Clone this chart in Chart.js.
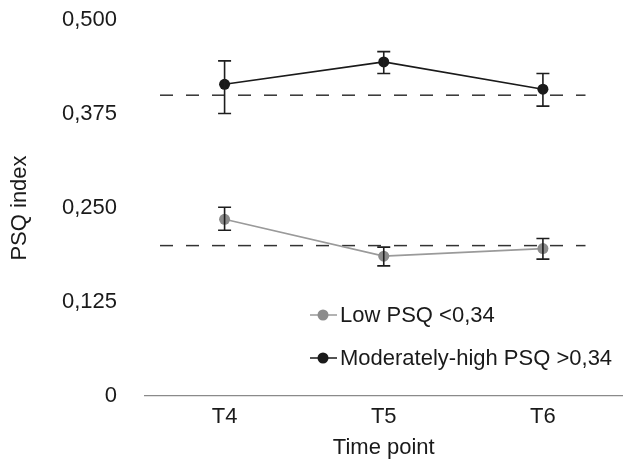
<!DOCTYPE html>
<html>
<head>
<meta charset="utf-8">
<script src="https://cdn.jsdelivr.net/npm/chart.js@4.4.1/dist/chart.umd.min.js"></script>
<style>
  html, body { margin: 0; padding: 0; background: #fff; }
  #wrap { width: 628px; height: 470px; }
</style>
</head>
<body>
<div id="wrap"><canvas id="psqChart"></canvas></div>
<script>
// Data
const timePoints = ['T4', 'T5', 'T6'];
const yTicks = [0, 0.125, 0.25, 0.375, 0.5];

const lowLabel = 'Low PSQ <0,34';
const lowMean = [0.235, 0.186, 0.196];
const lowUpper = [0.251, 0.198, 0.2095];
const lowLower = [0.2205, 0.173, 0.182];

const highLabel = 'Moderately-high PSQ >0,34';
const highMean = [0.4145, 0.4443, 0.408];
const highUpper = [0.4456, 0.458, 0.4288];
const highLower = [0.3757, 0.4288, 0.3855];

// dashed reference levels
const refLevels = [0.40, 0.20];

const FONT = 'Liberation Sans, Arial, sans-serif';
const FSIZE = 22;

function fmt(v) {
    if (v === 0) return '0';
    return v.toFixed(3).replace('.', ',');
}

// dashed horizontal lines at the reference levels
const refLinePlugin = {
    id: 'refLines',
    beforeDatasetsDraw(chart) {
        const { ctx, chartArea, scales } = chart;
        ctx.save();
        ctx.strokeStyle = '#333';
        ctx.lineWidth = 1.5;
        ctx.setLineDash([13, 13]);
        refLevels.forEach((lv) => {
            const y = scales.y.getPixelForValue(lv);
            ctx.beginPath();
            ctx.moveTo(chartArea.left + 15, y);
            ctx.lineTo(chartArea.right - 37, y);
            ctx.stroke();
        });
        ctx.restore();
    },
};

// error bars drawn from the bound arrays
const errorBarPlugin = {
    id: 'errorBars',
    afterDatasetsDraw(chart) {
        const { ctx, scales } = chart;
        ctx.save();
        ctx.strokeStyle = '#1e1e1e';
        ctx.lineWidth = 1.6;
        chart.data.datasets.forEach((ds) => {
            ds.data.forEach((v, i) => {
                const x = scales.x.getPixelForValue(i);
                const yTop = scales.y.getPixelForValue(ds.upper[i]);
                const yBot = scales.y.getPixelForValue(ds.lower[i]);
                ctx.beginPath();
                ctx.moveTo(x, yTop);
                ctx.lineTo(x, yBot);
                ctx.moveTo(x - 6.5, yTop);
                ctx.lineTo(x + 6.5, yTop);
                ctx.moveTo(x - 6.5, yBot);
                ctx.lineTo(x + 6.5, yBot);
                ctx.stroke();
            });
        });
        ctx.restore();
    },
};

// legend inside the plot area, lower right
const innerLegendPlugin = {
    id: 'innerLegend',
    afterDraw(chart) {
        const { ctx } = chart;
        const rows = [
            { ds: chart.data.datasets[0], y: 315 },
            { ds: chart.data.datasets[1], y: 358 },
        ];
        ctx.save();
        rows.forEach((r) => {
            ctx.strokeStyle = r.ds.borderColor;
            ctx.lineWidth = 1.5;
            ctx.beginPath();
            ctx.moveTo(310, r.y);
            ctx.lineTo(337, r.y);
            ctx.stroke();
            ctx.fillStyle = r.ds.pointBackgroundColor;
            ctx.beginPath();
            ctx.arc(323, r.y, 5.5, 0, Math.PI * 2);
            ctx.fill();
            ctx.fillStyle = '#1a1a1a';
            ctx.font = FSIZE + 'px ' + FONT;
            ctx.textBaseline = 'middle';
            ctx.textAlign = 'left';
            ctx.fillText(r.ds.label, 340, r.y + 1);
        });
        ctx.restore();
    },
};

function initializeChart() {
    const ctx = document.getElementById('psqChart').getContext('2d');

    new Chart(ctx, {
        type: 'line',
        data: {
            labels: timePoints,
            datasets: [
                {
                    label: lowLabel,
                    data: lowMean,
                    upper: lowUpper,
                    lower: lowLower,
                    borderColor: '#9a9a9a',
                    borderWidth: 1.6,
                    pointBackgroundColor: '#8c8c8c',
                    pointBorderWidth: 0,
                    pointRadius: 5.5,
                },
                {
                    label: highLabel,
                    data: highMean,
                    upper: highUpper,
                    lower: highLower,
                    borderColor: '#1a1a1a',
                    borderWidth: 1.6,
                    pointBackgroundColor: '#1a1a1a',
                    pointBorderWidth: 0,
                    pointRadius: 5.5,
                },
            ],
        },
        options: {
            responsive: true,
            maintainAspectRatio: false,
            animation: false,
            layout: { padding: { top: 20, right: 0, left: 0, bottom: 0 } },
            plugins: {
                legend: { display: false },
                tooltip: { enabled: false },
            },
            scales: {
                x: {
                    offset: true,
                    grid: { display: false },
                    border: { display: true, color: '#8a8a8a', width: 1.2 },
                    ticks: {
                        color: '#1a1a1a',
                        font: { family: FONT, size: FSIZE },
                        padding: 0,
                    },
                    title: {
                        display: true,
                        text: 'Time point',
                        color: '#1a1a1a',
                        font: { family: FONT, size: FSIZE },
                        padding: { top: 10, bottom: 9 },
                    },
                    afterFit(scale) {
                        scale.height = 74;
                        scale.paddingLeft = 0;
                        scale.paddingRight = 0;
                    },
                },
                y: {
                    min: 0,
                    max: 0.5,
                    afterBuildTicks(scale) {
                        scale.ticks = yTicks.map((v) => ({ value: v }));
                    },
                    grid: { display: false },
                    border: { display: false },
                    ticks: {
                        color: '#1a1a1a',
                        font: { family: FONT, size: FSIZE },
                        padding: 20,
                        callback: (v) => fmt(v),
                    },
                    title: {
                        display: true,
                        text: 'PSQ index',
                        color: '#1a1a1a',
                        font: { family: FONT, size: FSIZE },
                        padding: { top: 7, bottom: 0 },
                    },
                    afterFit(scale) {
                        scale.width = 145;
                        scale.paddingTop = 0;
                        scale.paddingBottom = 0;
                    },
                },
            },
        },
        plugins: [refLinePlugin, errorBarPlugin, innerLegendPlugin],
    });
}

document.addEventListener('DOMContentLoaded', initializeChart);
</script>
</body>
</html>
